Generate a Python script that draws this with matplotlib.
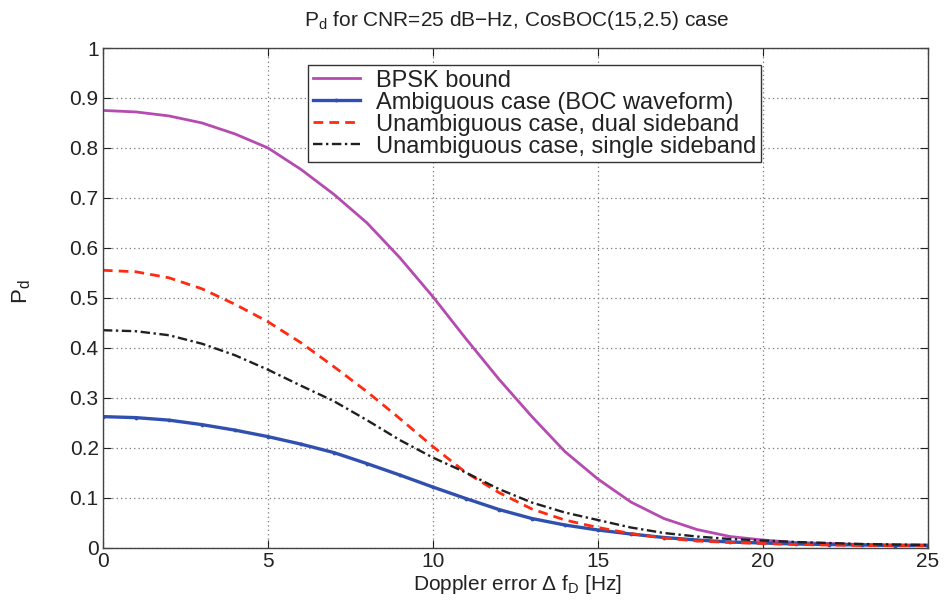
import matplotlib
matplotlib.use("Agg")
import matplotlib.pyplot as plt
from matplotlib.ticker import MultipleLocator

plt.rcParams["font.family"] = ["Liberation Sans", "DejaVu Sans"]
plt.rcParams["mathtext.fontset"] = "custom"
plt.rcParams["mathtext.rm"] = "Liberation Sans"
plt.rcParams["mathtext.it"] = "Liberation Sans"

# Doppler error [Hz]
doppler = list(range(0, 26))

bpsk = [0.875, 0.872, 0.864, 0.850, 0.828, 0.800, 0.757, 0.707, 0.650, 0.580,
        0.502, 0.418, 0.337, 0.262, 0.192, 0.137, 0.091, 0.058, 0.036, 0.022,
        0.015, 0.010, 0.008, 0.006, 0.005, 0.005]
ambiguous = [0.262, 0.260, 0.255, 0.246, 0.235, 0.222, 0.207, 0.190, 0.168, 0.145,
             0.121, 0.098, 0.076, 0.058, 0.045, 0.035, 0.027, 0.020, 0.015, 0.011,
             0.009, 0.007, 0.006, 0.005, 0.004, 0.004]
dual_sb = [0.555, 0.552, 0.540, 0.518, 0.487, 0.452, 0.410, 0.362, 0.312, 0.258,
           0.202, 0.150, 0.110, 0.077, 0.055, 0.040, 0.028, 0.019, 0.013, 0.010,
           0.008, 0.006, 0.005, 0.004, 0.004, 0.004]
single_sb = [0.435, 0.433, 0.425, 0.408, 0.385, 0.356, 0.324, 0.293, 0.255, 0.215,
             0.180, 0.150, 0.117, 0.090, 0.070, 0.055, 0.040, 0.029, 0.022, 0.017,
             0.014, 0.011, 0.009, 0.007, 0.006, 0.005]

labels = ["BPSK bound",
          "Ambiguous case (BOC waveform)",
          "Unambiguous case, dual sideband",
          "Unambiguous case, single sideband"]

fig = plt.figure(figsize=(9.44, 6.0), dpi=100)
ax = fig.add_axes([0.109, 0.0875, 0.874, 0.8325])

ax.plot(doppler, bpsk, color="#b54bb0", linewidth=2.0, label=labels[0])
ax.plot(doppler, ambiguous, color="#3050b0", linewidth=2.4, marker=".",
        markersize=3.5, label=labels[1])
ax.plot(doppler, dual_sb, color="#ff2a10", linewidth=2.0, linestyle=(0, (3.5, 2.2)),
        label=labels[2])
ax.plot(doppler, single_sb, color="#202020", linewidth=1.7,
        linestyle=(0, (4, 1.5, 1, 1.5)), label=labels[3])

ax.set_xlim(0, 25)
ax.set_ylim(0, 1)
ax.xaxis.set_major_locator(MultipleLocator(5))
ax.set_yticks([i / 10 for i in range(11)])
ax.set_yticklabels(["0"] + [f"{v/10:.1f}" for v in range(1, 10)] + ["1"])
ax.grid(True, color="#777777", linestyle=(0, (1, 2.5)), linewidth=0.9)
ax.tick_params(direction="in", top=True, right=True, length=6,
               labelsize=15, colors="#222222", pad=3)
for s in ax.spines.values():
    s.set_color("#444444")
    s.set_linewidth(1.0)

fig.text(517 / 944, 1 - 20 / 600,
         r"P$_\mathrm{d}$ for CNR=25 dB$-$Hz, CosBOC(15,2.5) case",
         ha="center", va="center", fontsize=15, color="#222222")
fig.text(517 / 944, 1 - 584 / 600, r"Doppler error $\Delta$ f$_\mathrm{D}$ [Hz]",
         ha="center", va="center", fontsize=15, color="#222222")
fig.text(22 / 944, 1 - 292 / 600, r"P$_\mathrm{d}$", rotation=90, ha="center",
         va="center", fontsize=16, color="#222222")

leg = ax.legend(loc="upper left", bbox_to_anchor=(0.2485, 0.966), fontsize=17,
                frameon=True, fancybox=False, framealpha=1, edgecolor="#333333",
                labelspacing=0.0, handlelength=2.0, handletextpad=0.7,
                borderpad=0.2, borderaxespad=0)
leg.get_frame().set_linewidth(1.0)
for t in leg.get_texts():
    t.set_color("#222222")

fig.savefig("out.png", dpi=100)
